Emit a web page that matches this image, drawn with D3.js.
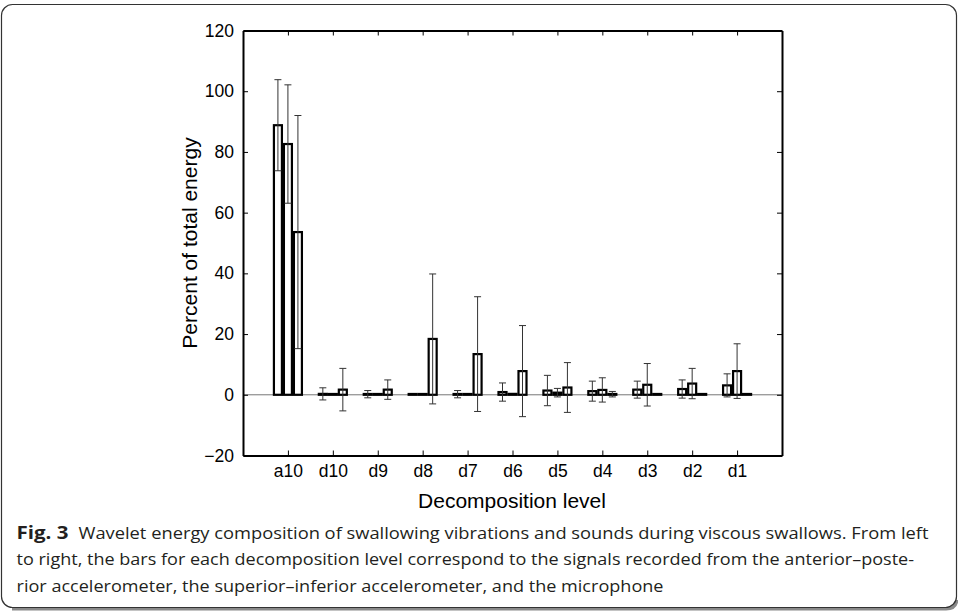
<!DOCTYPE html>
<html>
<head>
<meta charset="utf-8">
<script src="https://cdn.jsdelivr.net/npm/d3@7"></script>
<style>
  body { margin: 0; background: #fff; }
  svg { display: block; }
</style>
</head>
<body>
<div id="chart"></div>
<script>
// decomposition levels on the x axis
const levels = ["a10", "d10", "d9", "d8", "d7", "d6", "d5", "d4", "d3", "d2", "d1"];

// anterior-posterior accelerometer
const apMean = [88.8, 0.3, 0.2, 0, 0.2, 0.9, 1.4, 1.2, 1.7, 1.9, 3.1];
const apSd = [15, 2, 1.2, 0, 1.2, 3, 5, 3.3, 2.8, 3, 3.8];

// superior-inferior accelerometer
const siMean = [82.6, 0, 0, 0, 0, 0.3, 0.7, 1.6, 3.3, 3.7, 7.8];
const siSd = [19.5, 0, 0, 0, 0, 0, 1.4, 4, 7, 5, 9];

// microphone
const micMean = [53.6, 1.7, 1.7, 18.4, 13.4, 7.8, 2.4, 0.2, 0, 0, 0.2];
const micSd = [38.4, 7, 3.2, 21.4, 18.9, 15, 8.2, 0.9, 0, 0, 0];

const yTicks = [-20, 0, 20, 40, 60, 80, 100, 120];

const caption = [
  "Wavelet energy composition of swallowing vibrations and sounds during viscous swallows. From left",
  "to right, the bars for each decomposition level correspond to the signals recorded from the anterior\u2013poste-",
  "rior accelerometer, the superior\u2013inferior accelerometer, and the microphone",
];

const width = 958;
const height = 613;
const plot = { left: 243, right: 782, top: 30.5, bottom: 455.5 };
const axisFont = "'Liberation Sans', Arial, Helvetica, sans-serif";

const svg = d3
  .select("#chart")
  .append("svg")
  .attr("width", width)
  .attr("height", height);

// caption frame with a soft bottom shadow
svg
  .append("path")
  .attr("d", "M12,609 L946,609 Q956,609 957,600")
  .attr("fill", "none")
  .attr("stroke", "#8a8a8a")
  .attr("stroke-width", 3);
svg
  .append("rect")
  .attr("x", 1.5)
  .attr("y", 4.5)
  .attr("width", 955)
  .attr("height", 603)
  .attr("rx", 11)
  .attr("fill", "none")
  .attr("stroke", "#333")
  .attr("stroke-width", 1.2);

// scales
const x = d3.scalePoint().domain(levels).range([plot.left, plot.right]).padding(1);
const y = d3.scaleLinear().domain([-20, 120]).range([plot.bottom, plot.top]);
const inner = d3.scaleBand().domain([0, 1, 2]).range([-15, 15]);

// zero line
svg
  .append("line")
  .attr("x1", plot.left)
  .attr("x2", plot.right)
  .attr("y1", y(0))
  .attr("y2", y(0))
  .attr("stroke", "#777")
  .attr("stroke-width", 1);

// build one record per bar
const series = [
  { mean: apMean, sd: apSd },
  { mean: siMean, sd: siSd },
  { mean: micMean, sd: micSd },
];
const bars = [];
levels.forEach((level, i) => {
  series.forEach((s, k) => {
    bars.push({ level, k, mean: s.mean[i], sd: s.sd[i] });
  });
});

const barX = (d) => x(d.level) + inner(d.k);
const bw = inner.bandwidth();

// flat bars still show as a thick dash, so keep a minimal height
svg
  .append("g")
  .selectAll("rect")
  .data(bars)
  .enter()
  .append("rect")
  .attr("x", (d) => barX(d) + 1)
  .attr("width", bw - 2)
  .attr("y", (d) => Math.min(y(d.mean), y(0) - 0.8))
  .attr("height", (d) => Math.max(y(0) - y(d.mean), 0.8))
  .attr("fill", "#fff")
  .attr("stroke", "#000")
  .attr("stroke-width", 2.2);

// error bars
const errs = svg
  .append("g")
  .attr("stroke", "#333")
  .attr("stroke-width", 1)
  .selectAll("g")
  .data(bars.filter((d) => d.sd > 0))
  .enter()
  .append("g");

errs
  .append("line")
  .attr("x1", (d) => barX(d) + bw / 2)
  .attr("x2", (d) => barX(d) + bw / 2)
  .attr("y1", (d) => y(d.mean - d.sd))
  .attr("y2", (d) => y(d.mean + d.sd));
[-1, 1].forEach((sign) => {
  errs
    .append("line")
    .attr("x1", (d) => barX(d) + bw / 2 - 3.5)
    .attr("x2", (d) => barX(d) + bw / 2 + 3.5)
    .attr("y1", (d) => y(d.mean + sign * d.sd))
    .attr("y2", (d) => y(d.mean + sign * d.sd));
});

// axes box with inward ticks
function styleAxis(g) {
  g.select(".domain").attr("stroke", "#000").attr("stroke-width", 2);
  g.selectAll(".tick line").attr("stroke", "#000").attr("stroke-width", 1);
  g.selectAll(".tick text")
    .attr("fill", "#000")
    .style("font-family", axisFont)
    .style("font-size", "17.5px");
}

svg
  .append("g")
  .attr("transform", `translate(${plot.left},0)`)
  .call(d3.axisLeft(y).tickValues(yTicks).tickFormat((d) => (d < 0 ? "\u2212" + -d : d)).tickSize(-5).tickSizeOuter(0).tickPadding(9))
  .call(styleAxis);

svg
  .append("g")
  .attr("transform", `translate(${plot.right},0)`)
  .call(d3.axisRight(y).tickValues(yTicks).tickFormat("").tickSize(-5).tickSizeOuter(0))
  .call(styleAxis);

svg
  .append("g")
  .attr("transform", `translate(0,${plot.bottom})`)
  .call(d3.axisBottom(x).tickSize(-5).tickSizeOuter(0).tickPadding(9.5))
  .call(styleAxis);

svg
  .append("g")
  .attr("transform", `translate(0,${plot.top})`)
  .call(d3.axisTop(x).tickFormat("").tickSize(-5).tickSizeOuter(0))
  .call(styleAxis);

// axis titles
svg
  .append("text")
  .attr("x", (plot.left + plot.right) / 2 - 0.5)
  .attr("y", 508)
  .attr("text-anchor", "middle")
  .style("font-family", axisFont)
  .style("font-size", "21px")
  .text("Decomposition level");

svg
  .append("text")
  .attr("transform", `translate(197,${(plot.top + plot.bottom) / 2}) rotate(-90)`)
  .attr("text-anchor", "middle")
  .style("font-family", axisFont)
  .style("font-size", "21px")
  .text("Percent of total energy");

// figure caption
const capFont = "'Open Sans', 'Noto Sans', sans-serif";
svg
  .append("text")
  .attr("x", 16.5)
  .attr("y", 538.5)
  .attr("textLength", 52)
  .attr("lengthAdjust", "spacingAndGlyphs")
  .attr("fill", "#231f20")
  .style("font-family", capFont)
  .style("font-size", "17px")
  .style("font-weight", "bold")
  .text("Fig. 3");

const capLines = [
  { x: 78.5, y: 538.5, len: 850, text: caption[0] },
  { x: 16.5, y: 565.2, len: 897.5, text: caption[1] },
  { x: 16.5, y: 591.8, len: 647, text: caption[2] },
];
svg
  .append("g")
  .selectAll("text")
  .data(capLines)
  .enter()
  .append("text")
  .attr("x", (d) => d.x)
  .attr("y", (d) => d.y)
  .attr("textLength", (d) => d.len)
  .attr("lengthAdjust", "spacingAndGlyphs")
  .attr("fill", "#231f20")
  .style("font-family", capFont)
  .style("font-size", "17px")
  .text((d) => d.text);
</script>
</body>
</html>
